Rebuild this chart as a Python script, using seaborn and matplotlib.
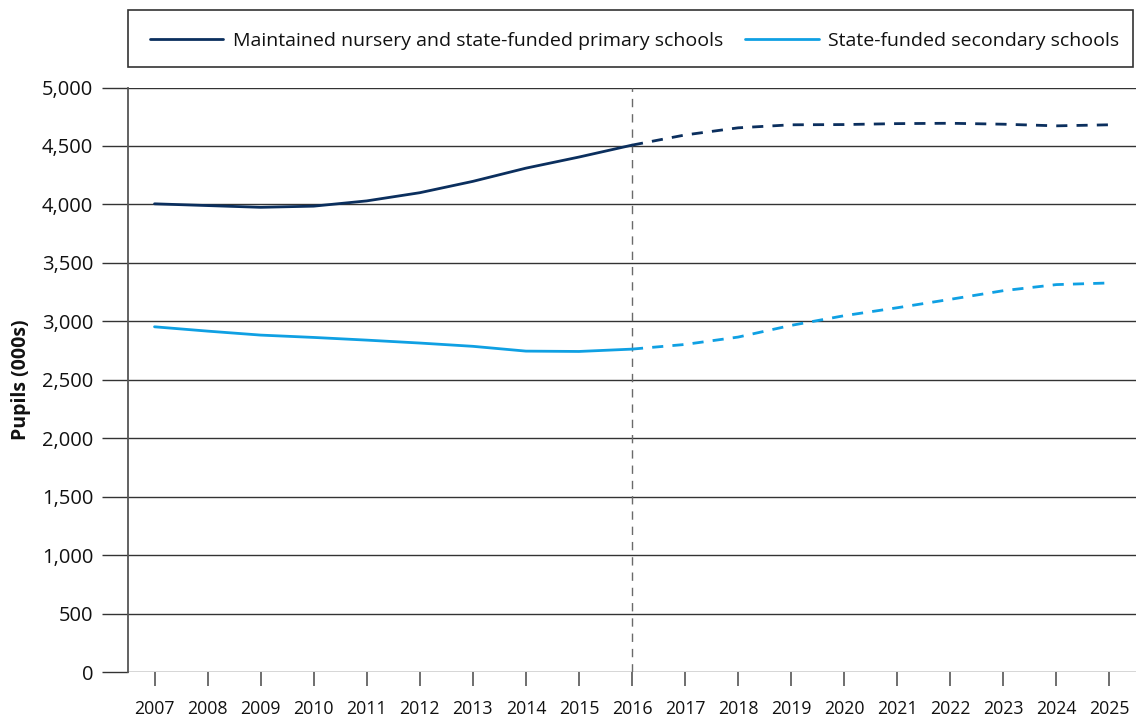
import matplotlib
matplotlib.use("Agg")
import matplotlib.pyplot as plt
from matplotlib.lines import Line2D
from matplotlib.patches import Rectangle
import seaborn as sns
import pandas as pd

years = list(range(2007, 2026))
primary = [4005, 3990, 3975, 3985, 4030, 4100, 4197, 4310, 4405, 4507,
           4594, 4655, 4681, 4683, 4691, 4694, 4686, 4672, 4681]
secondary = [2953, 2916, 2882, 2862, 2839, 2814, 2786, 2745, 2742, 2762,
             2802, 2865, 2965, 3048, 3116, 3188, 3262, 3314, 3328]
series_names = ["Maintained nursery and state-funded primary schools",
                "State-funded secondary schools"]
last_actual = 2016
y_ticks = list(range(0, 5001, 500))

colors = {series_names[0]: "#0b2f5e", series_names[1]: "#0fa0e3"}

df = pd.concat([
    pd.DataFrame({"year": years, "value": primary, "series": series_names[0]}),
    pd.DataFrame({"year": years, "value": secondary, "series": series_names[1]}),
])
actual = df[df["year"] <= last_actual]
proj = df[df["year"] >= last_actual]

sns.set_theme(style="white")
plt.rcParams["font.family"] = ["Open Sans", "DejaVu Sans"]

fig = plt.figure(figsize=(11.36, 7.19), dpi=100)
ax = fig.add_axes([128 / 1136, 1 - 672 / 719, 1 - 128 / 1136, (672 - 87.5) / 719])

sns.lineplot(data=actual, x="year", y="value", hue="series", palette=colors,
             linewidth=2.0, ax=ax, legend=False)
sns.lineplot(data=proj, x="year", y="value", hue="series", palette=colors,
             linewidth=2.0, ax=ax, legend=False)
for ln in ax.lines[len(series_names):]:
    ln.set_linestyle((0, (4, 3.3)))

ax.axvline(last_actual, color="#6a6a6a", lw=1.0, ls=(0, (6, 5)), zorder=1)

ax.set_xlim(2006.5, 2025.5)
ax.set_ylim(0, 5000)
ax.set_xticks(years)
ax.set_yticks(y_ticks)
ax.set_yticklabels([f"{v:,}" for v in y_ticks])
ax.grid(axis="y", color="#333333", lw=1.0)
ax.grid(axis="x", visible=False)
for s in ["top", "right", "bottom"]:
    ax.spines[s].set_visible(False)
ax.spines["left"].set_color("#555555")
ax.spines["left"].set_linewidth(1.3)

ax.tick_params(axis="x", direction="out", length=10, width=1.2, color="#555555",
               pad=10, labelsize=12.8, bottom=True, labelcolor="#111111")
ax.tick_params(axis="y", direction="out", length=18.5, width=1.0, color="#333333",
               pad=6.5, labelsize=14.5, left=True, labelcolor="#111111")

ax.set_xlabel("")
ax.set_ylabel("Pupils (000s)", fontsize=14, fontweight="bold", color="#111111")
ax.yaxis.set_label_coords(-0.096, 0.5)

# legend box
fig.patches.append(Rectangle((128 / 1136, 1 - 67 / 719), (1133 - 128) / 1136, 57 / 719,
                             transform=fig.transFigure, fill=False,
                             edgecolor="#333333", lw=1.2))
handles = [Line2D([0], [0], color=colors[n], lw=2.0) for n in series_names]
fig.legend(handles, series_names, loc="center", ncol=2, frameon=False,
           bbox_to_anchor=(634.5 / 1136, 1 - 41 / 719),
           fontsize=14, handlelength=3.8, handletextpad=0.5, columnspacing=1.1,
           labelcolor="#111111")

fig.savefig("out.png", dpi=100)
